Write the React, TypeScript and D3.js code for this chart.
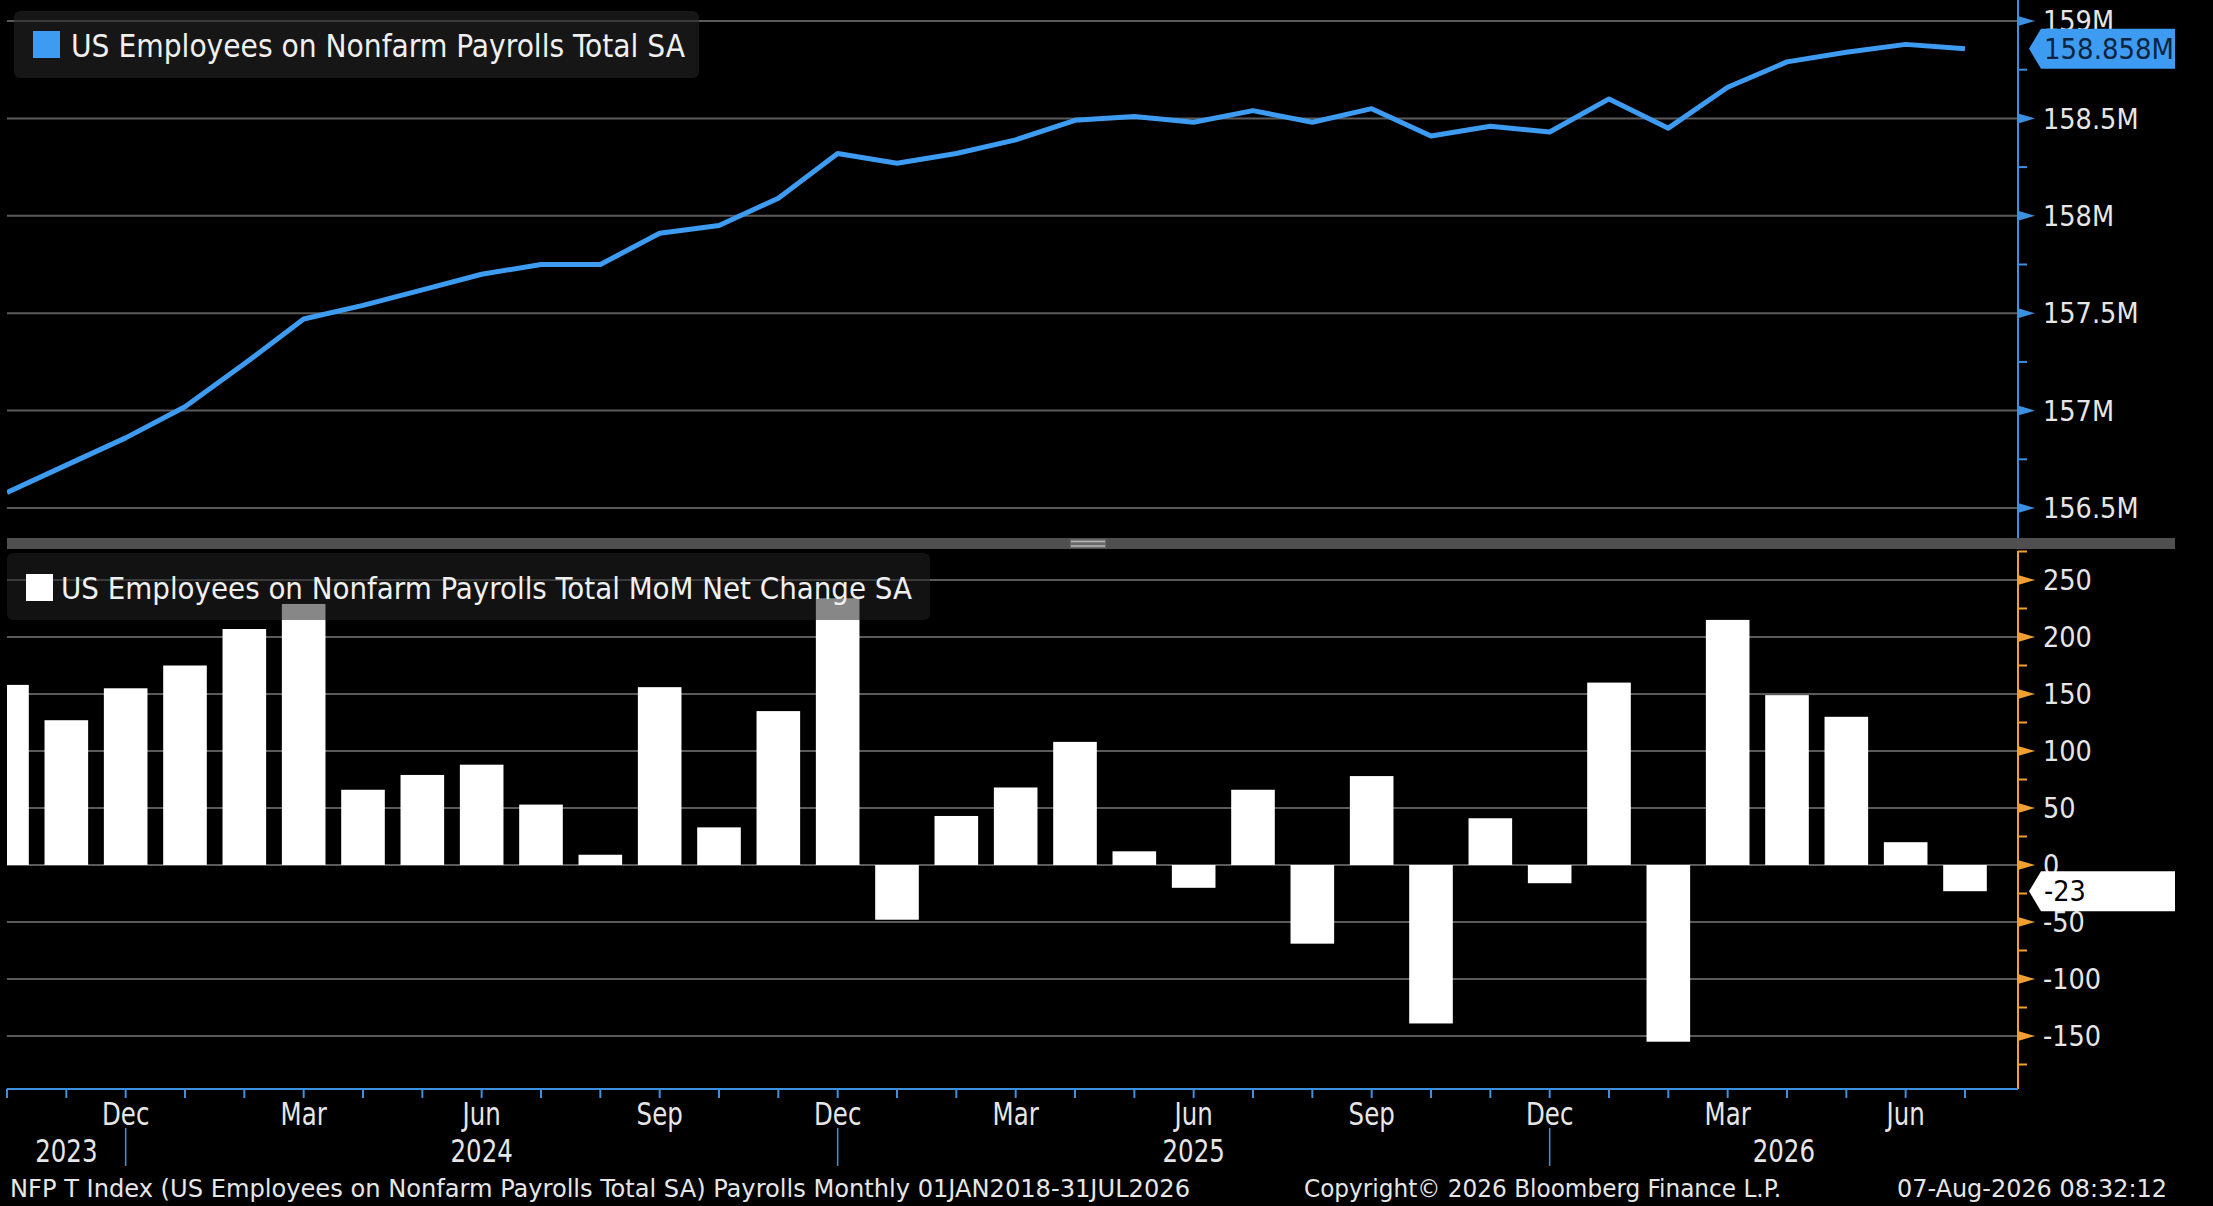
import { useEffect, useRef } from 'react';
import * as d3 from 'd3';

// monthly observations, Oct 2023 .. Jul 2026
const months = [
  '2023-10', '2023-11', '2023-12',
  '2024-01', '2024-02', '2024-03', '2024-04', '2024-05', '2024-06',
  '2024-07', '2024-08', '2024-09', '2024-10', '2024-11', '2024-12',
  '2025-01', '2025-02', '2025-03', '2025-04', '2025-05', '2025-06',
  '2025-07', '2025-08', '2025-09', '2025-10', '2025-11', '2025-12',
  '2026-01', '2026-02', '2026-03', '2026-04', '2026-05', '2026-06', '2026-07',
];

// total nonfarm payrolls, millions
const payrolls = [
  156.58, 156.72, 156.86,
  157.02, 157.24, 157.47, 157.54, 157.62, 157.70,
  157.75, 157.75, 157.91, 157.95, 158.09, 158.32,
  158.27, 158.32, 158.39, 158.49, 158.51, 158.48,
  158.54, 158.48, 158.55, 158.41, 158.46, 158.43,
  158.60, 158.45, 158.66, 158.79, 158.84, 158.88, 158.858,
];

// month over month net change, thousands
const netChange = [
  158, 127, 155,
  175, 207, 229, 66, 79, 88,
  53, 9, 156, 33, 135, 234,
  -48, 43, 68, 108, 12, -20,
  66, -69, 78, -139, 41, -16,
  160, -155, 215, 149, 130, 20, -23,
];

const levelTicks = [156.5, 157, 157.5, 158, 158.5, 159];
const levelMinor = [156.75, 157.25, 157.75, 158.25, 158.75];
const changeTicks = [-150, -100, -50, 0, 50, 100, 150, 200, 250];
const changeMinor = [-175, -125, -75, -25, 25, 75, 125, 175, 225, 275];
const monthNames = ['Jan', 'Feb', 'Mar', 'Apr', 'May', 'Jun', 'Jul', 'Aug', 'Sep', 'Oct', 'Nov', 'Dec'];

const levelLegend = 'US Employees on Nonfarm Payrolls Total SA';
const changeLegend = 'US Employees on Nonfarm Payrolls Total MoM Net Change SA';
const footLeft = 'NFP T Index (US Employees on Nonfarm Payrolls Total SA) Payrolls Monthly 01JAN2018-31JUL2026';
const footMid = 'Copyright\u00a9 2026 Bloomberg Finance L.P.';
const footRight = '07-Aug-2026 08:32:12';

const FONT = "'DejaVu Sans Condensed', 'DejaVu Sans', sans-serif";

export default function App() {
  const node = useRef<SVGSVGElement | null>(null);

  useEffect(() => {
    document.body.style.margin = '0';
    document.body.style.background = '#000';
    if (!node.current) return;

    const width = 2213, height = 1206;
    const left = 7, axisX = 2018;
    const topBottom = 538, botTop = 549, xAxisY = 1089;

    const svg = d3.select(node.current);
    svg.selectAll('*').remove();
    svg.attr('width', width).attr('height', height);

    const x = d3.scalePoint<string>().domain(months).range([left, 1965]);
    const step = x.step();
    const yLevel = d3.scaleLinear().domain([156.5, 159]).range([508, 21]);
    const yChange = d3.scaleLinear().domain([-150, 250]).range([1036, 580]);

    svg.append('rect').attr('width', width).attr('height', height).attr('fill', '#000');

    const defs = svg.append('defs');
    defs.append('clipPath').attr('id', 'clipTop')
      .append('rect').attr('x', left).attr('y', 0).attr('width', axisX - left).attr('height', topBottom);
    defs.append('clipPath').attr('id', 'clipBot')
      .append('rect').attr('x', left).attr('y', botTop).attr('width', axisX - left).attr('height', xAxisY - botTop);

    // ---- top panel
    svg.append('g').selectAll('line').data(levelTicks).join('line')
      .attr('x1', left).attr('x2', axisX)
      .attr('y1', d => yLevel(d)).attr('y2', d => yLevel(d))
      .attr('stroke', '#5a5a5a').attr('stroke-width', 2);

    const lg1 = svg.append('g');
    lg1.append('rect').attr('x', 14).attr('y', 11).attr('width', 685).attr('height', 67).attr('rx', 6)
      .attr('fill', 'rgba(36,36,36,0.6)');
    lg1.append('rect').attr('x', 33).attr('y', 31).attr('width', 27).attr('height', 27).attr('fill', '#3d9cf2');
    lg1.append('text').attr('x', 71).attr('y', 57).text(levelLegend)
      .attr('font-family', FONT).attr('font-size', 32).attr('fill', '#f0f0f0')
      .attr('textLength', 614).attr('lengthAdjust', 'spacingAndGlyphs');

    const line = d3.line<number>()
      .x((d, i) => x(months[i]) as number)
      .y(d => yLevel(d));
    svg.append('path').datum(payrolls)
      .attr('clip-path', 'url(#clipTop)')
      .attr('d', line)
      .attr('fill', 'none').attr('stroke', '#3d9cf2').attr('stroke-width', 5)
      .attr('stroke-linejoin', 'round');

    const axT = svg.append('g');
    axT.append('line').attr('x1', axisX).attr('x2', axisX).attr('y1', 0).attr('y2', topBottom)
      .attr('stroke', '#3d8fe0').attr('stroke-width', 2);
    axT.selectAll('line.minor').data(levelMinor).join('line').attr('class', 'minor')
      .attr('x1', axisX).attr('x2', axisX + 9)
      .attr('y1', d => yLevel(d)).attr('y2', d => yLevel(d))
      .attr('stroke', '#3d8fe0').attr('stroke-width', 2);
    axT.selectAll('path.major').data(levelTicks).join('path').attr('class', 'major')
      .attr('d', d => `M${axisX},${yLevel(d) - 5}L${axisX + 17},${yLevel(d)}L${axisX},${yLevel(d) + 5}Z`)
      .attr('fill', '#3d8fe0');
    axT.selectAll('text').data(levelTicks).join('text')
      .attr('x', 2043).attr('y', d => yLevel(d)).attr('dy', '0.36em')
      .attr('font-family', FONT).attr('font-size', 28.5).attr('fill', '#e6e6e6')
      .text(d => `${d}M`);

    const lastLevel = payrolls[payrolls.length - 1];
    const cy1 = yLevel(lastLevel);
    svg.append('path')
      .attr('d', `M2029,${cy1}L2041,${cy1 - 20}L2175,${cy1 - 20}L2175,${cy1 + 20}L2041,${cy1 + 20}Z`)
      .attr('fill', '#3d9cf2');
    svg.append('text').attr('x', 2044).attr('y', cy1).attr('dy', '0.36em')
      .attr('font-family', FONT).attr('font-size', 29).attr('fill', '#0c2440')
      .attr('textLength', 130).attr('lengthAdjust', 'spacingAndGlyphs')
      .text(`${lastLevel.toFixed(3)}M`);

    // ---- separator
    svg.append('rect').attr('x', left).attr('y', topBottom).attr('width', 2175 - left).attr('height', botTop - topBottom)
      .attr('fill', '#4f4f4f');
    svg.append('rect').attr('x', 1070).attr('y', topBottom + 1).attr('width', 36).attr('height', 9).attr('fill', '#6a6a6a');
    [541.5, 546].forEach(yy => {
      svg.append('line').attr('x1', 1071).attr('x2', 1105).attr('y1', yy).attr('y2', yy)
        .attr('stroke', '#b8b8b8').attr('stroke-width', 1.6);
    });

    // ---- bottom panel
    svg.append('g').selectAll('line').data(changeTicks).join('line')
      .attr('x1', left).attr('x2', axisX)
      .attr('y1', d => yChange(d)).attr('y2', d => yChange(d))
      .attr('stroke', '#5a5a5a').attr('stroke-width', 2);

    const barW = step * 0.735;
    svg.append('g').attr('clip-path', 'url(#clipBot)')
      .selectAll('rect').data(netChange).join('rect')
      .attr('x', (d, i) => (x(months[i]) as number) - barW / 2)
      .attr('width', barW)
      .attr('y', d => yChange(Math.max(0, d)))
      .attr('height', d => Math.abs(yChange(d) - yChange(0)))
      .attr('fill', '#ffffff');

    const lg2 = svg.append('g');
    lg2.append('rect').attr('x', 7).attr('y', 553).attr('width', 923).attr('height', 67).attr('rx', 6)
      .attr('fill', 'rgba(33,33,33,0.54)');
    lg2.append('rect').attr('x', 26).attr('y', 574).attr('width', 27).attr('height', 27).attr('fill', '#ffffff');
    lg2.append('text').attr('x', 61).attr('y', 599).text(changeLegend)
      .attr('font-family', FONT).attr('font-size', 31).attr('fill', '#f0f0f0')
      .attr('textLength', 851).attr('lengthAdjust', 'spacingAndGlyphs');

    const axB = svg.append('g');
    axB.append('line').attr('x1', axisX).attr('x2', axisX).attr('y1', 551).attr('y2', xAxisY)
      .attr('stroke', '#f0a030').attr('stroke-width', 2);
    axB.selectAll('line.minor').data(changeMinor).join('line').attr('class', 'minor')
      .attr('x1', axisX).attr('x2', axisX + 9)
      .attr('y1', d => yChange(d)).attr('y2', d => yChange(d))
      .attr('stroke', '#f0a030').attr('stroke-width', 2);
    axB.selectAll('path.major').data(changeTicks).join('path').attr('class', 'major')
      .attr('d', d => `M${axisX},${yChange(d) - 5}L${axisX + 17},${yChange(d)}L${axisX},${yChange(d) + 5}Z`)
      .attr('fill', '#f0a030');
    axB.selectAll('text').data(changeTicks).join('text')
      .attr('x', 2043).attr('y', d => yChange(d)).attr('dy', '0.36em')
      .attr('font-family', FONT).attr('font-size', 28.5).attr('fill', '#e6e6e6')
      .text(d => (d < 0 ? `-${-d}` : `${d}`));

    const lastChange = netChange[netChange.length - 1];
    const cy2 = yChange(lastChange);
    svg.append('path')
      .attr('d', `M2029,${cy2}L2041,${cy2 - 20}L2175,${cy2 - 20}L2175,${cy2 + 20}L2041,${cy2 + 20}Z`)
      .attr('fill', '#ffffff');
    svg.append('text').attr('x', 2044).attr('y', cy2).attr('dy', '0.36em')
      .attr('font-family', FONT).attr('font-size', 28.5).attr('fill', '#000')
      .text(`${lastChange}`);

    // ---- x axis
    const axX = svg.append('g');
    axX.append('line').attr('x1', left).attr('x2', axisX).attr('y1', xAxisY).attr('y2', xAxisY)
      .attr('stroke', '#3d8fe0').attr('stroke-width', 2);
    axX.selectAll('line.tick').data(months).join('line').attr('class', 'tick')
      .attr('x1', d => x(d) as number).attr('x2', d => x(d) as number)
      .attr('y1', xAxisY).attr('y2', xAxisY + 9)
      .attr('stroke', '#3d8fe0').attr('stroke-width', 2);

    const quarterly = months.filter(m => +m.slice(5) % 3 === 0);
    axX.selectAll('text.month').data(quarterly).join('text').attr('class', 'month')
      .attr('transform', d => `translate(${x(d)},1125) scale(0.85,1)`)
      .attr('text-anchor', 'middle')
      .attr('font-family', FONT).attr('font-size', 32).attr('fill', '#e6e6e6')
      .text(d => monthNames[+d.slice(5) - 1]);

    const decs = months.filter(m => m.endsWith('-12'));
    axX.selectAll('line.year').data(decs).join('line').attr('class', 'year')
      .attr('x1', d => x(d) as number).attr('x2', d => x(d) as number)
      .attr('y1', 1128).attr('y2', 1166)
      .attr('stroke', '#3d8fe0').attr('stroke-width', 1.5);

    const bounds = [left, ...decs.map(d => x(d) as number), axisX];
    const years = ['2023', '2024', '2025', '2026'];
    axX.selectAll('text.year').data(years).join('text').attr('class', 'year')
      .attr('transform', (d, i) => `translate(${(bounds[i] + bounds[i + 1]) / 2},1162) scale(0.85,1)`)
      .attr('text-anchor', 'middle')
      .attr('font-family', FONT).attr('font-size', 32).attr('fill', '#e6e6e6')
      .text(d => d);

    // ---- footer
    const foot = [
      { t: footLeft, x: 10, w: 1180 },
      { t: footMid, x: 1304, w: 477 },
      { t: footRight, x: 1897, w: 270 },
    ];
    svg.append('g').selectAll('text').data(foot).join('text')
      .attr('x', d => d.x).attr('y', 1197)
      .attr('textLength', d => d.w).attr('lengthAdjust', 'spacingAndGlyphs')
      .attr('font-family', FONT).attr('font-size', 25).attr('fill', '#e6e6e6')
      .text(d => d.t);
  }, []);

  return <svg ref={node} style={{ display: 'block' }} />;
}
